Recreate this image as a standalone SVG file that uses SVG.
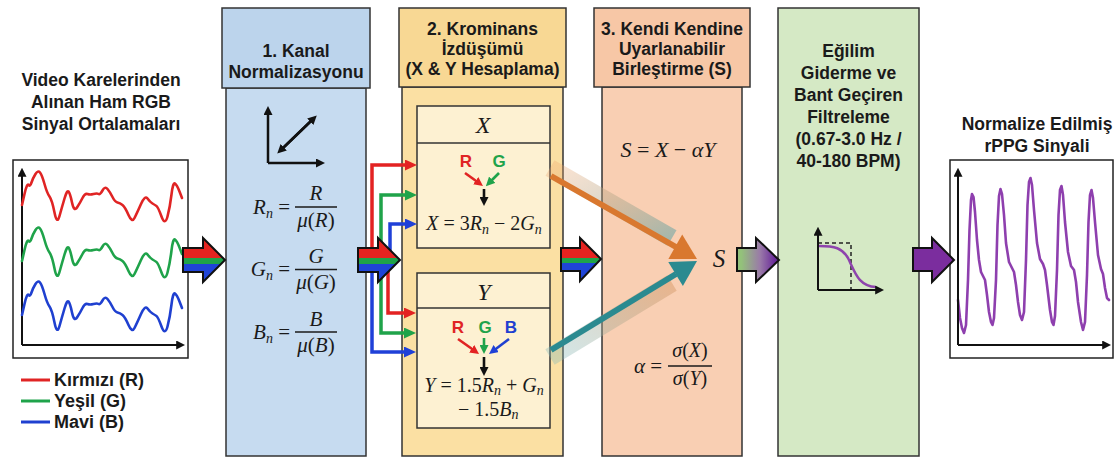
<svg xmlns="http://www.w3.org/2000/svg" width="1119" height="470" viewBox="0 0 1119 470">
<style>
.t{font-family:"Liberation Sans",Arial,sans-serif;font-weight:bold;font-size:17.5px;fill:#1a1a1a;text-anchor:middle}
.lg{font-family:"Liberation Sans",Arial,sans-serif;font-weight:bold;font-size:18px;fill:#1a1a1a}
.m{font-family:"Liberation Serif","Times New Roman",serif;fill:#1a1a1a}
.i{font-style:italic}
.sb{font-size:14px;font-style:italic}
.box{stroke:#333;stroke-width:1.5}
.ax{stroke:#111;stroke-width:2;fill:none;marker-end:url(#axa)}
.fr{stroke:#222;stroke-width:1.5}
.big{stroke:#111;stroke-width:2;stroke-linejoin:miter}
.ltr{font-family:"Liberation Sans",Arial,sans-serif;font-weight:bold;font-size:17px;text-anchor:middle}
</style>
<defs>
<marker id="axa" viewBox="0 0 10 10" markerWidth="9" markerHeight="9" refX="2" refY="5" orient="auto" markerUnits="userSpaceOnUse"><path d="M0,0L10,5L0,10z" fill="#111"/></marker>
<marker id="ahR" viewBox="0 0 12 11" markerWidth="12" markerHeight="11" refX="1" refY="5.5" orient="auto" markerUnits="userSpaceOnUse"><path d="M0,0L12,5.5L0,11z" fill="#e32222"/></marker>
<marker id="ahG" viewBox="0 0 12 11" markerWidth="12" markerHeight="11" refX="1" refY="5.5" orient="auto" markerUnits="userSpaceOnUse"><path d="M0,0L12,5.5L0,11z" fill="#1fa34a"/></marker>
<marker id="ahB" viewBox="0 0 12 11" markerWidth="12" markerHeight="11" refX="1" refY="5.5" orient="auto" markerUnits="userSpaceOnUse"><path d="M0,0L12,5.5L0,11z" fill="#1f40d8"/></marker>
<marker id="sR" viewBox="0 0 9 9" markerWidth="9" markerHeight="9" refX="1" refY="4.5" orient="auto" markerUnits="userSpaceOnUse"><path d="M0,0L9,4.5L0,9z" fill="#e32222"/></marker>
<marker id="sG" viewBox="0 0 9 9" markerWidth="9" markerHeight="9" refX="1" refY="4.5" orient="auto" markerUnits="userSpaceOnUse"><path d="M0,0L9,4.5L0,9z" fill="#1fa34a"/></marker>
<marker id="sB" viewBox="0 0 9 9" markerWidth="9" markerHeight="9" refX="1" refY="4.5" orient="auto" markerUnits="userSpaceOnUse"><path d="M0,0L9,4.5L0,9z" fill="#1f40d8"/></marker>
<marker id="sK" viewBox="0 0 9 9" markerWidth="9" markerHeight="9" refX="1" refY="4.5" orient="auto" markerUnits="userSpaceOnUse"><path d="M0,0L9,4.5L0,9z" fill="#111"/></marker>
<linearGradient id="rgb" x1="0" y1="0" x2="0" y2="1">
<stop offset="0" stop-color="#e52320"/><stop offset="0.455" stop-color="#e52320"/>
<stop offset="0.455" stop-color="#1fa34a"/><stop offset="0.59" stop-color="#1fa34a"/>
<stop offset="0.59" stop-color="#1f44d8"/><stop offset="1" stop-color="#1f44d8"/>
</linearGradient>
<linearGradient id="gp" x1="0" y1="0" x2="1" y2="0">
<stop offset="0.1" stop-color="#93c27a"/><stop offset="0.55" stop-color="#9a7aa8"/><stop offset="0.9" stop-color="#6a2a9a"/>
</linearGradient>
<linearGradient id="gO" x1="0" y1="0" x2="1" y2="1">
<stop offset="0" stop-color="#f0a268" stop-opacity="0.3"/><stop offset="1" stop-color="#5fa3a6" stop-opacity="0.55"/>
</linearGradient>
<linearGradient id="gT" x1="0" y1="1" x2="1" y2="0">
<stop offset="0" stop-color="#7fb8ba" stop-opacity="0.35"/><stop offset="1" stop-color="#d99a68" stop-opacity="0.5"/>
</linearGradient>
<path id="wave" d="M22,205 L24.5,194 Q27,183 28.5,185 Q30,187 31.5,182.5 Q33,178 35.5,174 Q38,170 40,172.5 Q42,175 44.5,184 Q47,193 49.5,196.5 Q52,200 54.5,212.5 Q57,225 59.5,216 Q62,207 64.5,198.5 Q67,190 68.5,191.5 Q70,193 72,202.5 Q74,212 77,207.5 Q80,203 82.5,198 Q85,193 87.5,194 Q90,195 93.5,194 Q97,193 98.5,194 Q100,195 102.5,190.5 Q105,186 107.5,189 Q110,192 112.5,197 Q115,202 117.5,202.5 Q120,203 122.5,205 Q125,207 128.5,215 Q132,223 134.5,218 Q137,213 141,204 Q145,195 147.5,198.5 Q150,202 152.5,203.5 Q155,205 156.5,206 Q158,207 161.5,216.5 Q165,226 167.5,216.5 Q170,207 171.5,194.5 Q173,182 175,183.5 Q177,185 179.5,191.5 L182,198" fill="none" stroke-width="2.6" stroke-linejoin="round" stroke-linecap="round"/>
</defs>
<rect width="1119" height="470" fill="#ffffff"/>

<g id="input">
<text class="t" x="101" y="86">Video Karelerinden</text>
<text class="t" x="101" y="108">Alınan Ham RGB</text>
<text class="t" x="101" y="130">Sinyal Ortalamaları</text>
<rect x="13" y="160" width="175" height="198" fill="#fff" class="fr"/>
<path class="ax" d="M22,345 V175"/>
<path class="ax" d="M22,345 H178"/>
<use href="#wave" stroke="#e02424"/>
<use href="#wave" stroke="#1fa34a" transform="translate(0,56)"/>
<use href="#wave" stroke="#1f40d0" transform="translate(0,110)"/>
<line x1="21" y1="380" x2="50" y2="380" stroke="#e02424" stroke-width="3"/>
<line x1="21" y1="401" x2="50" y2="401" stroke="#1fa34a" stroke-width="3"/>
<line x1="21" y1="422" x2="50" y2="422" stroke="#1f40d0" stroke-width="3"/>
<text class="lg" x="54" y="386">Kırmızı (R)</text>
<text class="lg" x="54" y="407">Yeşil (G)</text>
<text class="lg" x="54" y="428">Mavi (B)</text>
</g>

<g id="norm">
<rect x="226" y="88" width="140" height="368" fill="#c6dbf0" class="box"/>
<rect x="222" y="8" width="148" height="80" fill="#bcd4ec" class="box"/>
<text class="t" x="296" y="57">1. Kanal</text>
<text class="t" x="296" y="78">Normalizasyonu</text>
<path d="M268,163 V114" stroke="#111" stroke-width="2.5" fill="none" marker-end="url(#sK)"/>
<path d="M268,163 H317" stroke="#111" stroke-width="2.5" fill="none" marker-end="url(#sK)"/>
<path d="M283,148 L311,121" stroke="#111" stroke-width="2.5" fill="none" marker-end="url(#sK)"/>
<path d="M311,121 L283,148" stroke="#111" stroke-width="2.5" fill="none" marker-end="url(#sK)"/>
<g class="m" font-size="21">
<text x="290" y="214" text-anchor="end"><tspan class="i">R</tspan><tspan class="sb" dy="4">n</tspan><tspan dy="-4"> =</tspan></text>
<text x="316" y="200" text-anchor="middle" class="i">R</text>
<line x1="295" y1="207" x2="337" y2="207" stroke="#1a1a1a" stroke-width="1.3"/>
<text x="316" y="227" text-anchor="middle"><tspan class="i">μ</tspan>(<tspan class="i">R</tspan>)</text>
<text x="290" y="276" text-anchor="end"><tspan class="i">G</tspan><tspan class="sb" dy="4">n</tspan><tspan dy="-4"> =</tspan></text>
<text x="316" y="263" text-anchor="middle" class="i">G</text>
<line x1="295" y1="269.5" x2="337" y2="269.5" stroke="#1a1a1a" stroke-width="1.3"/>
<text x="316" y="289" text-anchor="middle"><tspan class="i">μ</tspan>(<tspan class="i">G</tspan>)</text>
<text x="290" y="339" text-anchor="end"><tspan class="i">B</tspan><tspan class="sb" dy="4">n</tspan><tspan dy="-4"> =</tspan></text>
<text x="316" y="326" text-anchor="middle" class="i">B</text>
<line x1="295" y1="332" x2="337" y2="332" stroke="#1a1a1a" stroke-width="1.3"/>
<text x="316" y="352" text-anchor="middle"><tspan class="i">μ</tspan>(<tspan class="i">B</tspan>)</text>
</g>
</g>

<g id="chroma">
<rect x="402" y="87" width="161" height="369" fill="#fbe0a3" class="box"/>
<rect x="399" y="8" width="167" height="79" fill="#f8d894" class="box"/>
<text class="t" x="482.5" y="35">2. Krominans</text>
<text class="t" x="482.5" y="55">İzdüşümü</text>
<text class="t" x="482.5" y="75">(X &amp; Y Hesaplama)</text>
<g id="xbox">
<rect x="417" y="106" width="133" height="142" fill="#fdf1d2" class="box"/>
<line x1="417" y1="143" x2="550" y2="143" class="box"/>
<text class="m i" font-size="24" x="483" y="133" text-anchor="middle">X</text>
<text class="ltr" x="466" y="167" fill="#e02424">R</text>
<text class="ltr" x="499" y="167" fill="#1fa34a">G</text>
<line x1="465" y1="173" x2="476.5" y2="181.3" stroke="#e02424" stroke-width="2.6" marker-end="url(#sR)"/>
<line x1="499" y1="173" x2="491.5" y2="180.5" stroke="#1fa34a" stroke-width="2.6" marker-end="url(#sG)"/>
<line x1="484" y1="189" x2="484" y2="198" stroke="#111" stroke-width="2.6" marker-end="url(#sK)"/>
<text class="m" font-size="20" x="484" y="230" text-anchor="middle"><tspan class="i">X</tspan> = 3<tspan class="i">R</tspan><tspan class="sb" dy="4">n</tspan><tspan dy="-4"> − 2</tspan><tspan class="i">G</tspan><tspan class="sb" dy="4">n</tspan></text>
</g>
<g id="ybox">
<rect x="417" y="273" width="133" height="155" fill="#fdf1d2" class="box"/>
<line x1="417" y1="308" x2="550" y2="308" class="box"/>
<text class="m i" font-size="24" x="484" y="300" text-anchor="middle">Y</text>
<text class="ltr" x="458" y="333" fill="#e02424">R</text>
<text class="ltr" x="485" y="333" fill="#1fa34a">G</text>
<text class="ltr" x="511" y="333" fill="#1f40d0">B</text>
<line x1="458" y1="339" x2="472.5" y2="349.3" stroke="#e02424" stroke-width="2.6" marker-end="url(#sR)"/>
<line x1="484" y1="338" x2="484" y2="346" stroke="#1fa34a" stroke-width="2.6" marker-end="url(#sG)"/>
<line x1="509" y1="339" x2="495.4" y2="349.2" stroke="#1f40d0" stroke-width="2.6" marker-end="url(#sB)"/>
<line x1="484" y1="357" x2="484" y2="368" stroke="#111" stroke-width="2.6" marker-end="url(#sK)"/>
<text class="m" font-size="20" x="484" y="392" text-anchor="middle"><tspan class="i">Y</tspan> = 1.5<tspan class="i">R</tspan><tspan class="sb" dy="3">n</tspan><tspan dy="-3"> + </tspan><tspan class="i">G</tspan><tspan class="sb" dy="3">n</tspan></text>
<text class="m" font-size="20" x="458" y="416">− 1.5<tspan class="i">B</tspan><tspan class="sb" dy="3">n</tspan></text>
</g>
</g>

<g id="fusion">
<rect x="602" y="87" width="140" height="369" fill="#f9cfb3" class="box"/>
<rect x="594" y="8" width="156" height="79" fill="#f7c7a6" class="box"/>
<text class="t" x="672" y="35">3. Kendi Kendine</text>
<text class="t" x="672" y="55">Uyarlanabilir</text>
<text class="t" x="672" y="75">Birleştirme (S)</text>
<text class="m" font-size="22" x="668" y="157" text-anchor="middle"><tspan class="i">S</tspan> = <tspan class="i">X</tspan> − <tspan class="i">αY</tspan></text>
<text class="m i" font-size="25" x="719" y="267" text-anchor="middle">S</text>
<text class="m" font-size="21" x="662" y="373" text-anchor="end"><tspan class="i">α</tspan> =</text>
<text class="m" font-size="20" x="690" y="357" text-anchor="middle"><tspan class="i">σ</tspan>(<tspan class="i">X</tspan>)</text>
<line x1="668" y1="366" x2="712" y2="366" stroke="#1a1a1a" stroke-width="1.3"/>
<text class="m" font-size="20" x="690" y="385" text-anchor="middle"><tspan class="i">σ</tspan>(<tspan class="i">Y</tspan>)</text>
</g>

<g id="filter">
<rect x="778" y="8" width="141" height="448" fill="#d5e9c5" class="box"/>
<text class="t" x="848.5" y="57">Eğilim</text>
<text class="t" x="848.5" y="79">Giderme ve</text>
<text class="t" x="848.5" y="101">Bant Geçiren</text>
<text class="t" x="848.5" y="123">Filtreleme</text>
<text class="t" x="848.5" y="145">(0.67-3.0 Hz /</text>
<text class="t" x="848.5" y="167">40-180 BPM)</text>
<path d="M818,243 H851 V290" fill="none" stroke="#222" stroke-width="1.5" stroke-dasharray="4,3"/>
<path d="M819,246 C835,246 842,248 848,258 C855,272 858,286 876,287" fill="none" stroke="#8e44ad" stroke-width="2.5"/>
<path class="ax" d="M818,290 V234"/>
<path class="ax" d="M818,290 H877"/>
</g>

<g id="output">
<text class="t" x="1037" y="130">Normalize Edilmiş</text>
<text class="t" x="1037" y="152">rPPG Sinyali</text>
<rect x="950" y="160" width="163" height="198" fill="#fff" class="fr"/>
<polyline fill="none" stroke="#8e3fae" stroke-width="2.6" stroke-linejoin="round" stroke-linecap="round" points="958,300 960,318 962,328 964,333 966,325 968,280 969.5,230 971,200 972,194 973.5,197 975,212 977,240 979,260 981,272 983,276 985,280 987,295 989,312 991,322 992.5,325 994,318 996,280 997.5,225 999,196 1000.5,189 1002,194 1004,215 1006,243 1009,262 1012,268 1014,272 1016,285 1018,302 1020,315 1022,320 1024,312 1026,260 1027.5,205 1029,182 1030.5,178 1032,185 1034,210 1037,243 1040,259 1043,264 1045,270 1047,285 1050,310 1052,322 1053.5,325 1055,316 1057,270 1058.5,215 1060,190 1061.5,186 1063,195 1065,222 1068,252 1071,266 1074,270 1076,282 1078,302 1081,322 1083,330 1085,322 1087,275 1088.5,222 1090,195 1091.5,190 1093,198 1095,222 1098,255 1101,269 1103,274 1105,288 1107,298 1109,300"/>
<path class="ax" d="M958,345 V175"/>
<path class="ax" d="M958,345 H1104"/>
</g>

<g id="connectors">
<path d="M405,165 H372 V260 H388 V313 H405" fill="none" stroke="#e32222" stroke-width="3.5" marker-end="url(#ahR)"/>
<path d="M405,195 H381 V333 H405" fill="none" stroke="#1fa34a" stroke-width="3.5" marker-end="url(#ahG)"/>
<path d="M405,224 H390 V260 H372 V352 H405" fill="none" stroke="#1f40d8" stroke-width="3.5" marker-end="url(#ahB)"/>
<line x1="405" y1="165" x2="406" y2="165" stroke="#e32222" stroke-width="3.5" marker-end="url(#ahR)"/>
<line x1="405" y1="195" x2="406" y2="195" stroke="#1fa34a" stroke-width="3.5" marker-end="url(#ahG)"/>
<line x1="405" y1="224" x2="406" y2="224" stroke="#1f40d8" stroke-width="3.5" marker-end="url(#ahB)"/>
<line x1="550" y1="168" x2="672" y2="238" stroke="url(#gO)" stroke-width="18"/>
<line x1="550" y1="357" x2="672" y2="283" stroke="url(#gT)" stroke-width="18"/>
<line x1="551" y1="176" x2="676" y2="247" stroke="#d9782f" stroke-width="6"/>
<polygon points="697,259 682.2,234.5 668.4,258.9" fill="#d9782f"/>
<line x1="551" y1="350" x2="676" y2="274" stroke="#2b8a90" stroke-width="6"/>
<polygon points="697,261 668.3,262 682.9,286" fill="#2b8a90"/>
<polygon class="big" fill="url(#rgb)" points="183,248 203,248 203,238 225,260 203,282 203,272 183,272"/>
<polygon class="big" fill="url(#rgb)" points="358,248 378,248 378,238 400,260 378,282 378,272 358,272"/>
<polygon class="big" fill="url(#rgb)" points="561,248 580,248 580,238 601,259 580,281 580,271 561,271"/>
<polygon class="big" fill="url(#gp)" points="737,248 756,248 756,238 779,260 756,282 756,271 737,271"/>
<polygon class="big" fill="#7b2d9e" points="913,248 932,248 932,238 954,260 932,282 932,271 913,271"/>
</g>
</svg>
